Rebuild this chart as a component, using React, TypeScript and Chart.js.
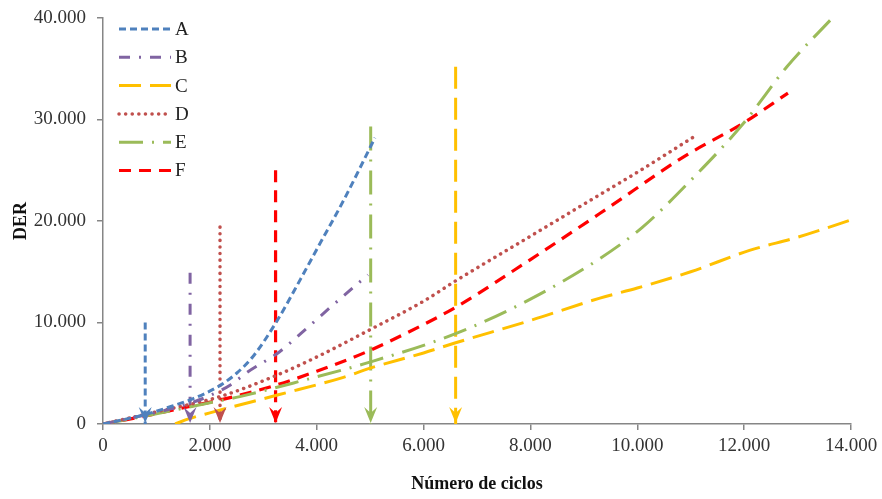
import React, { useEffect, useRef } from 'react';
import { Chart, registerables } from 'chart.js';

Chart.register(...registerables);

// ---- data ----
const SERIES_NAMES = ['A', 'B', 'C', 'D', 'E', 'F'];

const A_X = [0, 400, 800, 1200, 1690, 2190, 2500, 2800, 3250, 3700, 4000, 4500, 5090];
const A_Y = [0, 450, 950, 1600, 2500, 3800, 5000, 6600, 10100, 14300, 17200, 22000, 28200];

const B_X = [0, 400, 800, 1200, 1600, 2000, 2400, 2700, 3300, 3700, 4300, 4960];
const B_Y = [0, 450, 900, 1400, 2000, 2800, 3900, 5100, 7100, 8900, 11700, 14700];

const C_X = [1350, 1600, 2000, 3300, 4500, 5000, 6000, 6600, 8000, 9300, 10000, 11000, 12100, 13000, 14000];
const C_Y = [0, 500, 1100, 2900, 4600, 5500, 7000, 8000, 10200, 12400, 13400, 15000, 17100, 18400, 20100];

const D_X = [0, 1000, 2190, 3250, 4000, 5000, 6000, 6600, 8000, 9300, 10000, 11060];
const D_Y = [0, 1200, 2700, 4800, 6600, 9300, 12100, 14100, 18500, 22600, 24800, 28300];

const E_X = [0, 1000, 2000, 2560, 3750, 4930, 6600, 8000, 9300, 10100, 11000, 12000, 12800, 13650];
const E_Y = [0, 1000, 2100, 2700, 4300, 6000, 8900, 12300, 16300, 19400, 24000, 29700, 35200, 40000];

const F_X = [0, 800, 1600, 2300, 3250, 4000, 4930, 6000, 6600, 8000, 9400, 10860, 12000, 12820];
const F_Y = [0, 800, 1700, 2500, 3850, 5200, 7100, 9800, 11500, 16200, 21100, 26300, 29700, 32600];

// vertical arrows (one per series, A..F)
const ARROW_X = [790, 1630, 6600, 2190, 5010, 3230];
const ARROW_TOP = [10000, 14900, 35200, 19400, 29300, 25000];

const X_MIN = 0;
const X_MAX = 14000;
const X_STEP = 2000;
const Y_MIN = 0;
const Y_MAX = 40000;
const Y_STEP = 10000;

const X_TITLE = 'Número de ciclos';
const Y_TITLE = 'DER';

// ---- styles ----
const COLORS = ['#4F81BD', '#8064A2', '#FFC000', '#C0504D', '#9BBB59', '#FF0000'];
const DASHES = [[7, 4], [11, 9, 2, 9], [22, 9], [0.1, 6.5], [24, 9, 2, 9], [12, 8]];
const WIDTHS = [3, 3, 3, 3.5, 3, 3.2];
const CAPS = ['butt', 'butt', 'butt', 'round', 'butt', 'butt'];
const FONT = '"Liberation Serif", "Times New Roman", serif';

const SERIES_X = [A_X, B_X, C_X, D_X, E_X, F_X];
const SERIES_Y = [A_Y, B_Y, C_Y, D_Y, E_Y, F_Y];

const fmt = (v: number) => String(v).replace(/\B(?=(\d{3})+(?!\d))/g, '.');

const arrowPlugin = {
  id: 'arrowheads',
  afterDatasetsDraw(chart: any) {
    const ctx = chart.ctx;
    chart.data.datasets.forEach((ds: any, i: number) => {
      if (!ds.isArrow) return;
      const meta = chart.getDatasetMeta(i);
      const pts = meta.data;
      const tip = pts[pts.length - 1];
      const x = tip.x;
      const y = tip.y - 1;
      ctx.save();
      ctx.fillStyle = ds.borderColor;
      ctx.beginPath();
      ctx.moveTo(x, y);
      ctx.lineTo(x - 6.5, y - 16);
      ctx.lineTo(x, y - 10);
      ctx.lineTo(x + 6.5, y - 16);
      ctx.closePath();
      ctx.fill();
      ctx.restore();
    });
  },
};

const legendPlugin = {
  id: 'lineLegend',
  afterDraw(chart: any) {
    const ctx = chart.ctx;
    const left = chart.chartArea.left + 16;
    const top = chart.chartArea.top + 11;
    const spacing = 28.3;
    const lineLen = 52;
    SERIES_NAMES.forEach((name, i) => {
      const y = top + i * spacing;
      ctx.save();
      ctx.strokeStyle = COLORS[i];
      ctx.lineWidth = WIDTHS[i];
      ctx.lineCap = CAPS[i];
      ctx.setLineDash(DASHES[i]);
      ctx.beginPath();
      ctx.moveTo(left, y);
      ctx.lineTo(left + lineLen, y);
      ctx.stroke();
      ctx.setLineDash([]);
      ctx.fillStyle = '#222';
      ctx.font = `19px ${FONT}`;
      ctx.textBaseline = 'middle';
      ctx.textAlign = 'left';
      ctx.fillText(name, left + lineLen + 4, y + 1);
      ctx.restore();
    });
  },
};

export default function App() {
  const canvasRef = useRef<HTMLCanvasElement | null>(null);

  useEffect(() => {
    if (!canvasRef.current) return;
    const seriesSets = SERIES_NAMES.map((name, i) => ({
      label: name,
      data: SERIES_X[i].map((x, j) => ({ x, y: SERIES_Y[i][j] })),
      showLine: true,
      borderColor: COLORS[i],
      backgroundColor: COLORS[i],
      borderWidth: WIDTHS[i],
      borderDash: DASHES[i],
      borderCapStyle: CAPS[i],
      cubicInterpolationMode: 'monotone',
      pointRadius: 0,
      fill: false,
    }));
    const arrowSets = SERIES_NAMES.map((name, i) => ({
      label: name + ' arrow',
      isArrow: true,
      data: [
        { x: ARROW_X[i], y: ARROW_TOP[i] },
        { x: ARROW_X[i], y: Y_MIN },
      ],
      showLine: true,
      borderColor: COLORS[i],
      backgroundColor: COLORS[i],
      borderWidth: WIDTHS[i],
      borderDash: DASHES[i],
      borderCapStyle: CAPS[i],
      pointRadius: 0,
      fill: false,
    }));

    const chart = new Chart(canvasRef.current, {
      type: 'scatter',
      data: { datasets: [...seriesSets, ...arrowSets] as any },
      plugins: [arrowPlugin, legendPlugin],
      options: {
        animation: false,
        responsive: true,
        maintainAspectRatio: false,
        layout: { padding: { top: 18, right: 31, bottom: 0, left: 0 } },
        plugins: { legend: { display: false }, tooltip: { enabled: false } },
        scales: {
          x: {
            type: 'linear',
            min: X_MIN,
            max: X_MAX,
            ticks: {
              stepSize: X_STEP,
              font: { family: FONT, size: 19 },
              color: '#333',
              padding: 5,
              callback: (v: any) => fmt(Number(v)),
            },
            grid: { drawOnChartArea: false, tickLength: 6, color: '#868686', lineWidth: 1.5 },
            border: { color: '#868686', width: 1.5 },
            title: {
              display: true,
              text: X_TITLE,
              font: { family: FONT, size: 18, weight: 'bold' },
              color: '#111',
              padding: { top: 0, bottom: 4 },
            },
            afterFit: (s: any) => { s.height = 75; s.paddingLeft = 0; s.paddingRight = 0; },
          },
          y: {
            type: 'linear',
            min: Y_MIN,
            max: Y_MAX,
            ticks: {
              stepSize: Y_STEP,
              font: { family: FONT, size: 19 },
              color: '#333',
              padding: 11,
              callback: (v: any) => fmt(Number(v)),
            },
            grid: { drawOnChartArea: false, tickLength: 6, color: '#868686', lineWidth: 1.5 },
            border: { color: '#868686', width: 1.5 },
            title: {
              display: true,
              text: Y_TITLE,
              font: { family: FONT, size: 18, weight: 'bold' },
              color: '#111',
              padding: { top: 11, bottom: 0 },
            },
            afterFit: (s: any) => { s.width = 103; s.paddingTop = 0; s.paddingBottom = 0; },
          },
        },
      } as any,
    });
    return () => chart.destroy();
  }, []);

  return (
    <div style={{ position: 'absolute', left: 0, top: 0, width: 882, height: 499, background: '#fff' }}>
      <canvas ref={canvasRef} />
    </div>
  );
}
